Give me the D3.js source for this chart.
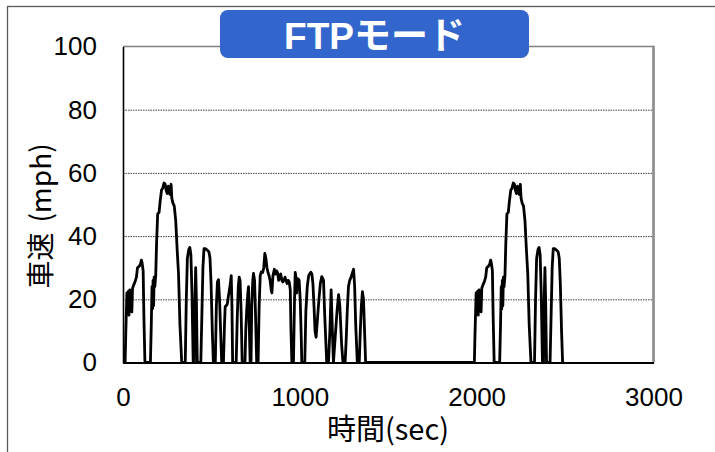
<!DOCTYPE html>
<html>
<head>
<meta charset="utf-8">
<script src="https://cdn.jsdelivr.net/npm/d3@7"></script>
<style>
  html, body { margin: 0; padding: 0; background: #fff; }
  svg { display: block; }
</style>
</head>
<body>
<svg id="chart" width="715" height="452"></svg>
<script>
// FTP-75 driving schedule: cold start + stabilized phase, soak, hot start phase
const coldTime = [0,12,16,22,26,30,34,38,42,46,50,54,60,68,76,82,92,98,104,108,114,118,124,155,160,164,167,170,173,176,180,185,190,196,204,210,218,224,232,238,244,250,256,260,266,272,276,282,290,298,306,314,322,332,352,358,364,372,378,384,390,397,403,407,411,415,420,440,446,452,458,466,478,486,492,498,505,511];
const coldSpeed = [0,0,10,22,16,22.5,15,23,16.5,22.5,16,23.5,24.5,25.5,27,30,30.5,31,32.4,31.5,29,15,0,0,12,24,17,26,18,27,24,27.5,38,47,47.5,51,54.6,55,56.8,56.5,54.5,53.5,55.8,54,53.2,56.4,52,50.5,49.5,45,36,28,12,0,0,20,33,35.8,36.4,34,22,0,0,20,30,20,0,0,15,30,36,36,35.5,35,33,25,10,0];

const stableTime = [522,528,534,540,546,552,558,568,574,578,584,590,596,602,608,612,616,620,640,646,652,657,662,668,674,690,694,700,706,710,714,719,724,728,734,738,744,750,756,764,770,776,782,790,796,802,808,814,820,826,832,838,842,848,856,862,868,874,880,886,892,898,904,910,916,922,928,934,940,946,950,955,964,970,974,978,982,986,990,996,1002,1008,1011,1028,1034,1042,1050,1062,1068,1074,1080,1086,1092,1100,1108,1116,1124,1134,1140,1146,1152,1162,1170,1177,1184,1190,1200,1210,1219,1226,1236,1244,1256,1262,1268,1275,1282,1290,1298,1304,1310,1316,1325,1336,1342,1348,1354,1360,1366,1372];
const stableSpeed = [0,18,25.5,26.2,20,10,0,0,12,17.7,18,18.5,21,23,25.5,27.5,18,0,0,14,24,27,26,16,0,0,10,17,22,24,12,0,0,18,26,28.2,26,14,0,0,18,27.5,28.7,28.5,30,34.5,33,30,28.5,27.5,26,23,22,27.5,29.5,28,29,28.5,26,27.5,28,26,25.5,26,27,26,25,26,25.5,23,10,0,0,20,28.5,27,22,25,26.5,26,20,8,0,0,16,24,27.5,28.6,28,25,18,10,8,14,20,25,27.2,26,16,8,0,0,10,23,10,0,8,16,21.5,18,6,0,0,7,16,24,26,27,28.5,29.5,24,12,0,0,10,18,22.4,20,10,0];

const hotTime = [1975,1987,1991,1997,2001,2005,2009,2013,2017,2021,2025,2029,2035,2043,2051,2057,2067,2073,2079,2083,2089,2093,2099,2130,2135,2139,2142,2145,2148,2151,2155,2160,2165,2171,2179,2185,2193,2199,2207,2213,2219,2225,2231,2235,2241,2247,2251,2257,2265,2273,2281,2289,2297,2307,2327,2333,2339,2347,2353,2359,2365,2372,2378,2382,2386,2390,2395,2415,2421,2427,2433,2441,2453,2461,2467,2473,2480,2486];
const hotSpeed = [0,0,10,22,16,22.5,15,23,16.5,22.5,16,23.5,24.5,25.5,27,30,30.5,31,32.4,31.5,29,15,0,0,12,24,17,26,18,27,24,27.5,38,47,47.5,51,54.6,55,56.8,56.5,54.5,53.5,55.8,54,53.2,56.4,52,50.5,49.5,45,36,28,12,0,0,20,33,35.8,36.4,34,22,0,0,20,30,20,0,0,15,30,36,36,35.5,35,33,25,10,0];

const xTicks = [0, 1000, 2000, 3000];
const yTicks = [0, 20, 40, 60, 80, 100];
const gridTicks = [20, 40, 60, 80];

const titleText = "FTPモード";
const xTitle = "時間(sec)";
const yTitleMain = "車速";
const yTitleUnit = "(mph)";

const svg = d3.select("#chart");
const plot = { left: 123, right: 653.5, top: 46.5, bottom: 362.5 };

const x = d3.scaleLinear().domain([0, 3000]).range([plot.left, plot.right]);
const y = d3.scaleLinear().domain([0, 100]).range([plot.bottom, plot.top]);

const numFont = "'Liberation Sans', Arial, sans-serif";
const jpFont = "'Noto Sans CJK JP', 'Liberation Sans', sans-serif";

// outer frame of the figure
svg.append("rect")
  .attr("x", 7.5).attr("y", 6.5)
  .attr("width", 760).attr("height", 500)
  .attr("fill", "none").attr("stroke", "#5a5a5a").attr("stroke-width", 1.3);

// horizontal dotted gridlines
const grid = svg.append("g")
  .attr("transform", `translate(${plot.left},0)`)
  .call(d3.axisLeft(y).tickValues(gridTicks).tickSize(-(plot.right - plot.left)).tickFormat(""));
grid.select(".domain").remove();
grid.selectAll("line")
  .attr("stroke", "#444").attr("stroke-width", 1).attr("stroke-dasharray", "1.5,1");

// plot frame: grey top and right edges
svg.append("line")
  .attr("x1", plot.left).attr("x2", plot.right)
  .attr("y1", plot.top).attr("y2", plot.top)
  .attr("stroke", "#808080").attr("stroke-width", 1.6);
svg.append("line")
  .attr("x1", plot.right).attr("x2", plot.right)
  .attr("y1", plot.top - 0.8).attr("y2", plot.bottom)
  .attr("stroke", "#8a8a8a").attr("stroke-width", 2.6);

// speed trace
const points = [];
coldTime.forEach((t, i) => points.push([t, coldSpeed[i]]));
stableTime.forEach((t, i) => points.push([t, stableSpeed[i]]));
hotTime.forEach((t, i) => points.push([t, hotSpeed[i]]));

const line = d3.line().x(d => x(d[0])).y(d => y(d[1]));
svg.append("path")
  .datum(points)
  .attr("d", line)
  .attr("fill", "none")
  .attr("stroke", "#000")
  .attr("stroke-width", 2.8)
  .attr("stroke-linejoin", "round");

// axes
const yAxis = svg.append("g")
  .attr("transform", `translate(${plot.left},0)`)
  .call(d3.axisLeft(y).tickValues(yTicks).tickSize(0).tickPadding(26));
yAxis.select(".domain").attr("stroke", "#000").attr("stroke-width", 1.6);
yAxis.selectAll("text")
  .attr("font-family", numFont).attr("font-size", 26).attr("fill", "#000");

const xAxis = svg.append("g")
  .attr("transform", `translate(0,${plot.bottom})`)
  .call(d3.axisBottom(x).tickValues(xTicks).tickSize(0).tickPadding(25).tickFormat(d3.format("d")));
xAxis.select(".domain").attr("stroke", "#000").attr("stroke-width", 2);
xAxis.selectAll("text")
  .attr("font-family", numFont).attr("font-size", 26).attr("fill", "#000");

// axis titles
svg.append("text")
  .attr("x", 388).attr("y", 440)
  .attr("text-anchor", "middle")
  .attr("font-family", jpFont).attr("font-size", 29).attr("fill", "#000")
  .text(xTitle);

const yt = svg.append("text")
  .attr("transform", "translate(51,216) rotate(-90)")
  .attr("text-anchor", "middle")
  .attr("font-family", jpFont).attr("font-size", 28).attr("fill", "#000");
yt.append("tspan").text(yTitleMain);
yt.append("tspan").attr("dx", 10).text(yTitleUnit);

// title badge
svg.append("rect")
  .attr("x", 220).attr("y", 10)
  .attr("width", 309).attr("height", 48)
  .attr("rx", 8).attr("ry", 8)
  .attr("fill", "#3366cc");
svg.append("text")
  .attr("x", 374.5).attr("y", 49)
  .attr("text-anchor", "middle")
  .attr("font-family", "'Liberation Sans', 'Noto Sans CJK JP', sans-serif")
  .attr("font-weight", "bold").attr("font-size", 37).attr("fill", "#fff")
  .text(titleText);
</script>
</body>
</html>
